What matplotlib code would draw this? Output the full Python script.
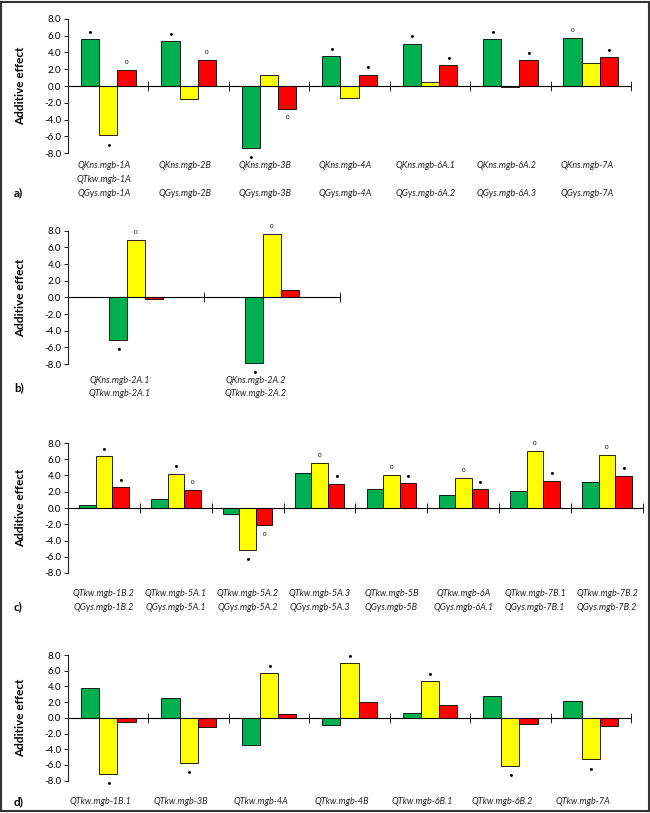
import numpy as np
import matplotlib
matplotlib.use("Agg")
import matplotlib.pyplot as plt
from matplotlib.patches import Rectangle

plt.rcParams["font.family"] = ["Lato", "DejaVu Sans"]
plt.rcParams["axes.unicode_minus"] = False

GREEN, YELLOW, RED = "#00B050", "#FFFF00", "#FF0000"

# ─── panel a ─────────────────────────────────────────────────────────
a_line1 = ["QKns.mgb-1A", "QKns.mgb-2B", "QKns.mgb-3B", "QKns.mgb-4A",
           "QKns.mgb-6A.1", "QKns.mgb-6A.2", "QKns.mgb-7A"]
a_line2 = ["QTkw.mgb-1A", "", "", "", "", "", ""]
a_line3 = ["QGys.mgb-1A", "QGys.mgb-2B", "QGys.mgb-3B", "QGys.mgb-4A",
           "QGys.mgb-6A.2", "QGys.mgb-6A.3", "QGys.mgb-7A"]
a_green = [5.55, 5.30, -7.36, 3.58, 5.04, 5.55, 5.67]
a_yellow = [-5.87, -1.54, 1.30, -1.46, 0.43, -0.16, 2.76]
a_red = [1.93, 3.07, -2.72, 1.34, 2.52, 3.11, 3.43]
a_green_sig = ["•", "•", "•", "•", "•", "•", "0"]
a_yellow_sig = ["•", "", "", "", "", "", ""]
a_red_sig = ["0", "0", "0", "•", "•", "•", "•"]

# ─── panel b ─────────────────────────────────────────────────────────
b_line1 = ["QKns.mgb-2A.1", "QKns.mgb-2A.2"]
b_line2 = ["QTkw.mgb-2A.1", "QTkw.mgb-2A.2"]
b_green = [-5.12, -7.84]
b_yellow = [6.88, 7.56]
b_red = [-0.24, 0.88]
b_green_sig = ["•", "•"]
b_yellow_sig = ["0", "0"]
b_red_sig = ["", ""]

# ─── panel c ─────────────────────────────────────────────────────────
c_line1 = ["QTkw.mgb-1B.2", "QTkw.mgb-5A.1", "QTkw.mgb-5A.2", "QTkw.mgb-5A.3",
           "QTkw.mgb-5B", "QTkw.mgb-6A", "QTkw.mgb-7B.1", "QTkw.mgb-7B.2"]
c_line2 = ["QGys.mgb-1B.2", "QGys.mgb-5A.1", "QGys.mgb-5A.2", "QGys.mgb-5A.3",
           "QGys.mgb-5B", "QGys.mgb-6A.1", "QGys.mgb-7B.1", "QGys.mgb-7B.2"]
c_green = [0.37, 1.10, -0.70, 4.34, 2.30, 1.56, 2.05, 3.24]
c_yellow = [6.35, 4.22, -5.12, 5.53, 4.10, 3.73, 6.97, 6.48]
c_red = [2.54, 2.17, -2.09, 2.99, 3.03, 2.30, 3.36, 3.98]
c_green_sig = ["", "", "", "", "", "", "", ""]
c_yellow_sig = ["•", "•", "•", "0", "0", "0", "0", "0"]
c_red_sig = ["•", "0", "0", "•", "•", "•", "•", "•"]

# ─── panel d ─────────────────────────────────────────────────────────
d_line1 = ["QTkw.mgb-1B.1", "QTkw.mgb-3B", "QTkw.mgb-4A", "QTkw.mgb-4B",
           "QTkw.mgb-6B.1", "QTkw.mgb-6B.2", "QTkw.mgb-7A"]
d_green = [3.74, 2.47, -3.45, -0.94, 0.64, 2.77, 2.13]
d_yellow = [-7.10, -5.70, 5.74, 6.94, 4.64, -6.09, -5.28]
d_red = [-0.55, -1.15, 0.51, 2.00, 1.62, -0.77, -1.06]
d_green_sig = ["", "", "", "", "", "", ""]
d_yellow_sig = ["•", "•", "•", "•", "•", "•", "•"]
d_red_sig = ["", "", "", "", "", "", ""]

W, H = 650, 813
fig = plt.figure(figsize=(W / 100, H / 100), dpi=100)


def px_axes(x0, x1, y_top, y_bot):
    return fig.add_axes([x0 / W, 1 - y_bot / H, (x1 - x0) / W, (y_bot - y_top) / H])


def draw_panel(ax, series, sigs, bar_w, lines, line_px, lab_off, tag, tag_y):
    n = len(series[0])
    idx = np.arange(n)
    for k, (vals, col, sg) in enumerate(zip(series, [GREEN, YELLOW, RED], sigs)):
        xs = idx + 0.5 + (k - 1) * bar_w
        ax.bar(xs, vals, width=bar_w, color=col, edgecolor="black",
               linewidth=0.6, zorder=2)
        for x, v, s in zip(xs, vals, sg):
            if not s:
                continue
            off = 5.5 if v >= 0 else -6.5
            fs = 6 if s == "•" else 4.5
            ax.annotate(s, (x, v), xytext=(0, off), textcoords="offset points",
                        ha="center", va="center", fontsize=fs, zorder=3)

    ax.set_xlim(0, n)
    ax.set_ylim(-8, 8)
    ax.set_yticks(np.arange(-8, 9, 2))
    ax.set_yticklabels([f"{t:.1f}" for t in np.arange(-8, 9, 2)], fontsize=7)
    ax.tick_params(axis="y", length=3, width=0.7, pad=2, color="#222222")
    ax.set_xticks(np.arange(0, n + 1))
    ax.set_xticklabels([])
    ax.tick_params(axis="x", direction="inout", length=7, width=0.7, color="#222222")
    for sp in ["top", "right"]:
        ax.spines[sp].set_visible(False)
    ax.spines["bottom"].set_position(("data", 0))
    ax.spines["bottom"].set_linewidth(0.8)
    ax.spines["left"].set_linewidth(0.8)
    ax.spines["left"].set_color("#222222")
    ax.patch.set_alpha(0)
    ax.set_ylabel("Additive effect", fontsize=8.5, fontweight="bold", labelpad=4)
    ax.yaxis.set_label_coords(-42 / (ax.get_position().width * W), 0.5)

    # category labels (under the plot, in pixel rows)
    for labs, ypx in zip(lines, line_px):
        for i, t in enumerate(labs):
            if t:
                fx = ax.transData.transform((i + 0.5 + lab_off, 0))[0] / W
                fig.text(fx, 1 - ypx / H, t, ha="center", va="center",
                         fontsize=6.5, style="italic", color="#222222")
    fig.text(14 / W, 1 - tag_y / H, tag, ha="left", va="center",
             fontsize=8.5, fontweight="bold")


ax_a = px_axes(68, 631, 18.7, 153.3)
draw_panel(ax_a, [a_green, a_yellow, a_red], [a_green_sig, a_yellow_sig, a_red_sig],
           0.227, [a_line1, a_line2, a_line3], [166, 180, 193], -0.05, "a)", 193)

ax_b = px_axes(68, 340, 230.7, 364)
draw_panel(ax_b, [b_green, b_yellow, b_red], [b_green_sig, b_yellow_sig, b_red_sig],
           0.13, [b_line1, b_line2], [380, 393], -0.12, "b)", 388)

ax_c = px_axes(68, 643, 443, 573)
draw_panel(ax_c, [c_green, c_yellow, c_red], [c_green_sig, c_yellow_sig, c_red_sig],
           0.23, [c_line1, c_line2], [593, 607], 0.0, "c)", 607)

ax_d = px_axes(68, 631, 655, 780.7)
draw_panel(ax_d, [d_green, d_yellow, d_red], [d_green_sig, d_yellow_sig, d_red_sig],
           0.227, [d_line1], [801.7], -0.1, "d)", 802)

# outer frame
fig.add_artist(Rectangle((0.002, 0.002), 0.996, 0.996, transform=fig.transFigure,
                         fill=False, edgecolor="#333333", linewidth=1.5))

fig.savefig("out.png", dpi=100)
